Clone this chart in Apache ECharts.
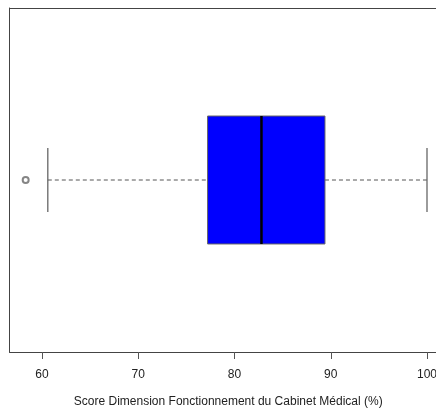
<!DOCTYPE html>
<html><head><meta charset="utf-8">
<script src="https://cdn.jsdelivr.net/npm/echarts@6/dist/echarts.min.js"></script>
<style>html,body{margin:0;padding:0;background:#fff}#c{width:436px;height:412px}</style>
</head><body><div id="c"></div>
<script>
const categories = ['Score'];
const whiskerLow = [60.6];
const q1 = [77.2];
const median = [82.8];
const q3 = [89.4];
const whiskerHigh = [100];
const outliers = [[58.3, 0]];
const tickValues = [60, 70, 80, 90, 100];
const axisTitle = 'Score Dimension Fonctionnement du Cabinet Médical (%)';

const boxData = categories.map((c, i) => [i, whiskerLow[i], q1[i], median[i], q3[i], whiskerHigh[i]]);

const chart = echarts.init(document.getElementById('c'), null, {renderer: 'canvas'});
const frameLine = {show: true, lineStyle: {color: '#444', width: 1}};
chart.setOption({
  animation: false,
  textStyle: {fontFamily: 'Liberation Sans, Arial, sans-serif'},
  grid: {left: 9.5, right: 0, top: 8, bottom: 60, show: false, containLabel: false, outerBoundsMode: 'none'},
  xAxis: [{
    type: 'value', min: 56.62, max: 100.935,
    splitLine: {show: false},
    axisLine: frameLine,
    axisTick: {show: true, customValues: tickValues, length: 7, lineStyle: {color: '#555'}},
    axisLabel: {customValues: tickValues, color: '#222', fontSize: 12, margin: 17},
    name: axisTitle, nameLocation: 'middle', nameGap: 44,
    nameTextStyle: {color: '#222', fontSize: 12, padding: [0, 0, 0, 11]}
  }, {
    type: 'value', position: 'top', min: 56.62, max: 100.935,
    splitLine: {show: false}, axisLine: frameLine,
    axisTick: {show: false}, axisLabel: {show: false}
  }],
  yAxis: {
    type: 'category', data: categories, position: 'left',
    axisLine: frameLine, axisTick: {show: false}, axisLabel: {show: false}, splitLine: {show: false}
  },
  series: [
    {
      type: 'custom',
      data: boxData,
      encode: {x: [1, 2, 3, 4, 5], y: 0},
      renderItem: function (params, api) {
        const ci = api.value(0);
        const band = api.size([0, 1])[1];
        const hb = band * 0.186;
        const hc = band * 0.093;
        const pLo = api.coord([api.value(1), ci]);
        const pQ1 = api.coord([api.value(2), ci]);
        const pMed = api.coord([api.value(3), ci]);
        const pQ3 = api.coord([api.value(4), ci]);
        const pHi = api.coord([api.value(5), ci]);
        const cy = pMed[1];
        const dash = {stroke: '#555', lineWidth: 1, lineDash: [4, 3]};
        const cap = {stroke: '#666', lineWidth: 1.3};
        return {
          type: 'group',
          children: [
            {type: 'line', shape: {x1: pLo[0], y1: cy, x2: pQ1[0], y2: cy}, style: dash},
            {type: 'line', shape: {x1: pQ3[0], y1: cy, x2: pHi[0], y2: cy}, style: dash},
            {type: 'line', shape: {x1: pLo[0], y1: cy - hc, x2: pLo[0], y2: cy + hc}, style: cap},
            {type: 'line', shape: {x1: pHi[0], y1: cy - hc, x2: pHi[0], y2: cy + hc}, style: cap},
            {type: 'rect', shape: {x: pQ1[0], y: cy - hb, width: pQ3[0] - pQ1[0], height: 2 * hb},
              style: {fill: '#0000ff', stroke: '#666', lineWidth: 1}},
            {type: 'line', shape: {x1: pMed[0], y1: cy - hb, x2: pMed[0], y2: cy + hb},
              style: {stroke: '#000', lineWidth: 2.5}}
          ]
        };
      }
    },
    {
      type: 'scatter',
      data: outliers,
      symbol: 'emptyCircle',
      symbolSize: 6,
      itemStyle: {color: '#666', borderColor: '#666', borderWidth: 0.8}
    }
  ]
});
</script>
</body></html>
